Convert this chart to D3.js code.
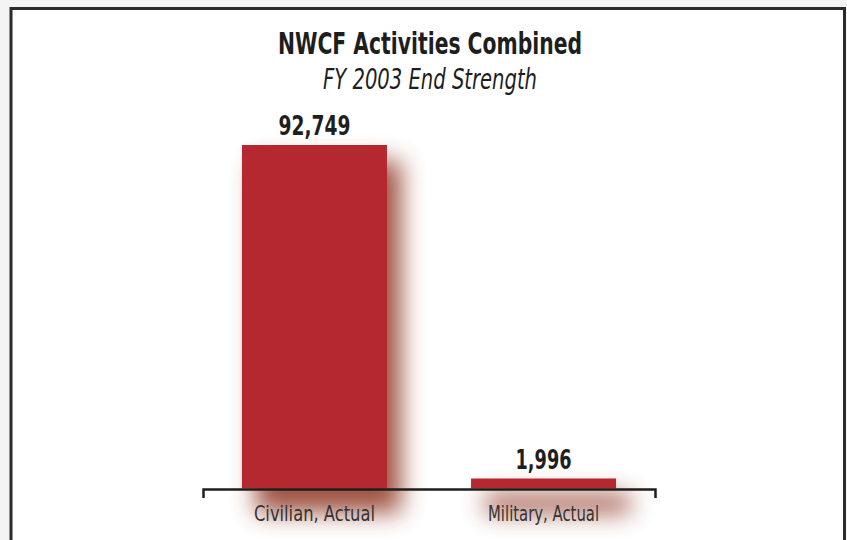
<!DOCTYPE html>
<html>
<head>
<meta charset="utf-8">
<script src="https://cdn.jsdelivr.net/npm/d3@7"></script>
<style>
  html, body { margin: 0; padding: 0; background: #f4f4f4; }
  svg { display: block; }
  text { font-family: 'DejaVu Sans Condensed', 'Liberation Sans Narrow', sans-serif; }
</style>
</head>
<body>
<script>
const categories = ["Civilian, Actual", "Military, Actual"];
const values = [92749, 1996];
const valueLabels = ["92,749", "1,996"];
const title = "NWCF Activities Combined";
const subtitle = "FY 2003 End Strength";

const W = 847, H = 540;
const svg = d3.select("body").append("svg").attr("width", W).attr("height", H);

const defs = svg.append("defs");
const f = defs.append("filter").attr("id", "shadow")
  .attr("x", "-100%").attr("y", "-300%").attr("width", "300%").attr("height", "700%");
f.append("feGaussianBlur").attr("stdDeviation", 12);

// frame
svg.append("rect").attr("x", 11).attr("y", 8.5).attr("width", 833.5).attr("height", 540)
  .attr("fill", "#ffffff").attr("stroke", "#2b2b2b").attr("stroke-width", 3);

const x = d3.scaleBand().domain(categories).range([203, 655]).paddingInner(0.367).paddingOuter(0.17);
const y = d3.scaleLinear().domain([0, 92749]).range([488.5, 145]);

const data = categories.map((c, i) => ({c, v: values[i], label: valueLabels[i]}));
const minH = 10;
const barTop = d => Math.min(y(d.v), y(0) - minH);

function fit(sel, w) {
  sel.attr("textLength", w).attr("lengthAdjust", "spacingAndGlyphs");
}

// shadows
svg.append("g").selectAll("rect").data(data).join("rect")
  .attr("x", d => x(d.c) + 14)
  .attr("y", d => barTop(d) + 16)
  .attr("width", x.bandwidth())
  .attr("height", d => y(0) - barTop(d) + 8)
  .attr("fill", "#94412e")
  .attr("opacity", 0.9)
  .attr("filter", "url(#shadow)");

// bars
svg.append("g").selectAll("rect").data(data).join("rect")
  .attr("x", d => x(d.c))
  .attr("y", d => barTop(d))
  .attr("width", x.bandwidth())
  .attr("height", d => y(0) - barTop(d))
  .attr("fill", "#b5282f");

// axis
const axis = svg.append("g").attr("transform", `translate(0,${y(0) + 0.5})`)
  .call(d3.axisBottom(x).tickSize(0).tickSizeOuter(9).tickPadding(16));
axis.select(".domain").attr("stroke", "#1e1e1e").attr("stroke-width", 2.5);
const catW = [121, 111];
axis.selectAll(".tick text").attr("font-size", 22).attr("fill", "#333333")
  .attr("font-family", "'DejaVu Sans Condensed', sans-serif")
  .each(function(d, i) { fit(d3.select(this), catW[i]); });

// value labels
const valW = [72, 56];
svg.append("g").selectAll("text").data(data).join("text")
  .attr("x", d => x(d.c) + x.bandwidth() / 2)
  .attr("y", d => barTop(d) - 10)
  .attr("text-anchor", "middle")
  .attr("font-size", 27).attr("font-weight", "bold").attr("fill", "#1e1e1e")
  .text(d => d.label)
  .each(function(d, i) { fit(d3.select(this), valW[i]); });

// titles
svg.append("text").attr("x", 430).attr("y", 54).attr("text-anchor", "middle")
  .attr("font-size", 30).attr("font-weight", "bold").attr("fill", "#1e1e1e").text(title)
  .call(fit, 304);
svg.append("text").attr("x", 430).attr("y", 89).attr("text-anchor", "middle")
  .attr("font-size", 28).attr("font-style", "italic").attr("fill", "#1e1e1e").text(subtitle)
  .call(fit, 214);
</script>
</body>
</html>
